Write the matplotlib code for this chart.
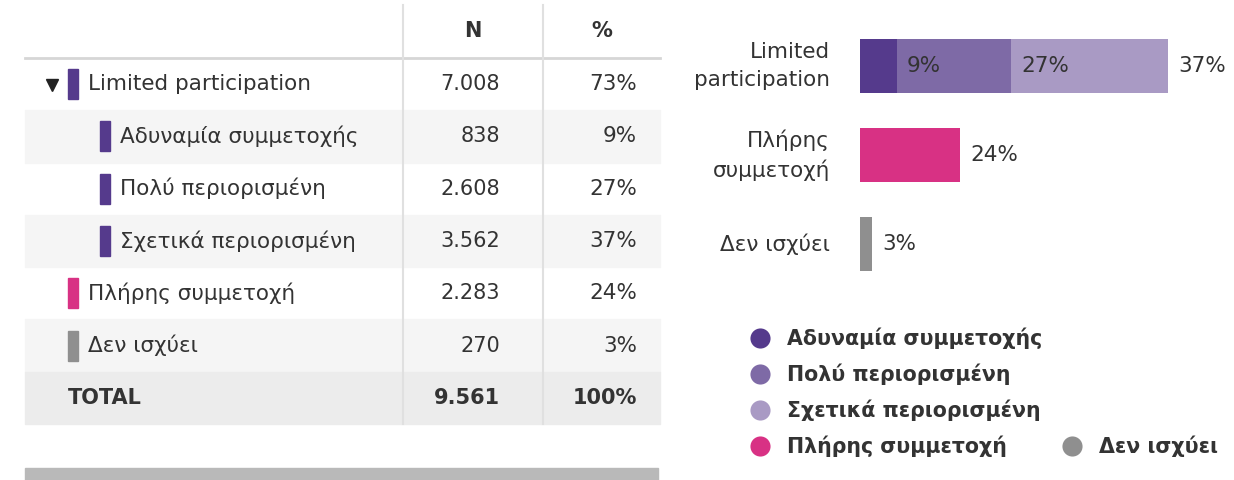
import matplotlib

matplotlib.use("Agg")
import matplotlib.pyplot as plt
from matplotlib.patches import Rectangle

# table rows: label, count, indent level, marker colour
row_labels = [
    "Limited participation",
    "Αδυναμία συμμετοχής",
    "Πολύ περιορισμένη",
    "Σχετικά περιορισμένη",
    "Πλήρης συμμετοχή",
    "Δεν ισχύει",
]
row_counts = [7008, 838, 2608, 3562, 2283, 270]
row_levels = [0, 1, 1, 1, 0, 0]
row_markers = ["#553a8c", "#553a8c", "#553a8c", "#553a8c", "#d83184", "#8f8f8f"]
total_label = "TOTAL"
total_count = 9561

# bar chart categories and stacked segments
bar_categories = ["Limited\nparticipation", "Πλήρης\nσυμμετοχή", "Δεν ισχύει"]
bar_segments = [
    [("Αδυναμία συμμετοχής", 838), ("Πολύ περιορισμένη", 2608), ("Σχετικά περιορισμένη", 3562)],
    [("Πλήρης συμμετοχή", 2283)],
    [("Δεν ισχύει", 270)],
]

colors = {
    "Αδυναμία συμμετοχής": "#553a8c",
    "Πολύ περιορισμένη": "#7e6aa6",
    "Σχετικά περιορισμένη": "#a99ac4",
    "Πλήρης συμμετοχή": "#d83184",
    "Δεν ισχύει": "#8f8f8f",
}
legend_order = ["Αδυναμία συμμετοχής", "Πολύ περιορισμένη", "Σχετικά περιορισμένη",
                "Πλήρης συμμετοχή", "Δεν ισχύει"]

TEXT = "#333333"
FS = 15.5


def fmt_n(n):
    return f"{n:,}".replace(",", ".")


def pct(n):
    return f"{round(100 * n / total_count)}%"


fig = plt.figure(figsize=(12.34, 4.8), dpi=100)
ax = fig.add_axes([0, 0, 1, 1])
ax.set_xlim(0, 1234)
ax.set_ylim(480, 0)
ax.axis("off")

# --- table ---
x0, x1, x2, x3 = 25, 403, 543, 660
top, head_bot = 5, 58
row_h = (424 - head_bot) / 7

ax.text((x1 + x2) / 2, 31, "N", ha="center", va="center", fontsize=15, fontweight="bold", color=TEXT)
ax.text((x2 + x3) / 2, 31, "%", ha="center", va="center", fontsize=15, fontweight="bold", color=TEXT)

for i, (label, n, lvl, mc) in enumerate(zip(row_labels, row_counts, row_levels, row_markers)):
    y0 = head_bot + i * row_h
    yc = y0 + row_h / 2
    if i % 2 == 1:
        ax.add_patch(Rectangle((x0, y0), x3 - x0, row_h, color="#f5f5f5", zorder=0))
    mx = 68 + 32 * lvl
    ax.add_patch(Rectangle((mx, yc - 15), 10, 30, color=mc, zorder=2))
    ax.text(mx + 20, yc, label, ha="left", va="center", fontsize=FS, color=TEXT)
    ax.text(500, yc, fmt_n(n), ha="right", va="center", fontsize=15, color=TEXT)
    ax.text(637, yc, pct(n), ha="right", va="center", fontsize=FS, color=TEXT)
    if i == 0:
        ax.plot(52, yc + 1, marker="v", markersize=9, color="#222222", zorder=3)

y0 = head_bot + len(row_labels) * row_h
yc = y0 + row_h / 2
ax.add_patch(Rectangle((x0, y0), x3 - x0, row_h, color="#ececec", zorder=0))
ax.text(68, yc, total_label, ha="left", va="center", fontsize=15, fontweight="bold", color=TEXT)
ax.text(500, yc, fmt_n(total_count), ha="right", va="center", fontsize=15, fontweight="bold", color=TEXT)
ax.text(637, yc, pct(total_count), ha="right", va="center", fontsize=15, fontweight="bold", color=TEXT)

ax.plot([x0, x3], [head_bot, head_bot], color="#d6d6d6", lw=2, zorder=1)
for xs in (x1, x2):
    ax.plot([xs, xs], [top, 424], color="#e0e0e0", lw=1.5, zorder=1)

ax.add_patch(Rectangle((x0, 468), 658 - x0, 12, color="#b9b9b9", zorder=0))

# --- legend ---
leg_pos = [(760, 338), (760, 374), (760, 410), (760, 446), (1072, 446)]
for name, (lx, ly) in zip(legend_order, leg_pos):
    ax.scatter([lx], [ly], s=210, color=colors[name], zorder=3, linewidths=0)
    ax.text(lx + 27, ly, name, ha="left", va="center", fontsize=14.8, fontweight="bold", color=TEXT)

# --- stacked bar chart ---
px_per_unit = 308 / 7008
bx = fig.add_axes([860 / 1234, 1 - 288.5 / 480, 374 / 1234, 267 / 480])
bx.set_xlim(0, 374 / px_per_unit)
bx.set_ylim(2.5, -0.5)
bx.axis("off")

for yi, segs in enumerate(bar_segments):
    left = 0
    for name, n in segs:
        bx.barh(yi, n, left=left, height=0.6, color=colors[name], linewidth=0)
        left += n
        bx.annotate(pct(n), (left, yi), xytext=(10, 0), textcoords="offset pixels",
                    ha="left", va="center", fontsize=FS, color=TEXT)
    bx.annotate(bar_categories[yi], (0, yi), xytext=(-30, 0), textcoords="offset pixels",
                ha="right", va="center", multialignment="right", linespacing=1.5,
                fontsize=FS, color=TEXT, annotation_clip=False)

fig.savefig("out.png", dpi=100)
